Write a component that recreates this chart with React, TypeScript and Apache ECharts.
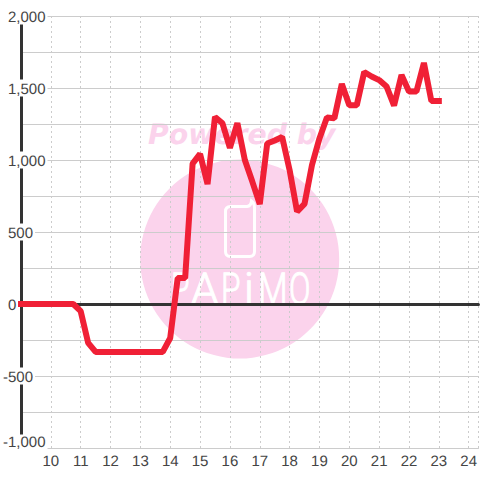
import React, { useEffect, useRef } from "react";
import * as echarts from "echarts";

const hours = [
  9, 9.25, 9.5, 9.75, 10, 10.25, 10.5, 10.75, 11, 11.25, 11.5, 11.75, 12, 12.25, 12.5, 12.75, 13, 13.25, 13.5, 13.75,
  14, 14.25, 14.5, 14.75, 15, 15.25, 15.5, 15.75, 16, 16.25, 16.5, 16.75, 17, 17.25, 17.5, 17.75, 18, 18.25, 18.5, 18.75,
  19, 19.25, 19.5, 19.75, 20, 20.25, 20.5, 20.75, 21, 21.25, 21.5, 21.75, 22, 22.25, 22.5, 22.75, 23,
];
const profit = [
  0, 0, 0, 0, 0, 0, 0, 0, -50, -270, -333, -333, -333, -333, -333, -333, -333, -333, -333, -333,
  -236, 180, 180, 975, 1042, 833, 1299, 1255, 1085, 1257, 1000, 850, 694, 1115, 1135, 1160, 930, 642, 695, 965,
  1150, 1295, 1290, 1528, 1380, 1380, 1611, 1580, 1555, 1510, 1378, 1590, 1475, 1475, 1674, 1410, 1410,
];

const PHONE =
  "M230.5 206.5 H247 Q251 206 251.5 201 Q254.5 203 254.5 208 V251.5 Q254.5 256.5 249.5 256.5 H230.5 Q225.5 256.5 225.5 251.5 V211.5 Q225.5 206.5 230.5 206.5 Z";
echarts.graphic.registerShape("logo", echarts.graphic.extendPath(PHONE, {}) as any);

const logoLetters: [string, number, number][] = [
  ["P", 171, 0.68],
  ["A", 191, 1.0],
  ["P", 221, 0.72],
  ["i", 244, 1.0],
  ["M", 258, 0.78],
  ["O", 289, 0.72],
];

const FONT = "'Liberation Sans', Arial, sans-serif";
const TEXT = "#444444";
const GRID = "#cccccc";
const DARK = "#333333";
const PINK = "#fbd3ec";
const RED = "#f02036";

export default function App() {
  const ref = useRef<HTMLDivElement>(null);
  useEffect(() => {
    const chart = echarts.init(ref.current!, undefined, { renderer: "svg" });
    const xCommon = { type: "value", min: 9, max: 24.327, interval: 1 };
    const tok = { color: TEXT, fontFamily: FONT, fontSize: 15, backgroundColor: "#ffffff", lineHeight: 15 };
    chart.setOption({
      animation: false,
      backgroundColor: "#ffffff",
      grid: { left: 20.2, right: 0, top: 16, bottom: 32 },
      graphic: [
        { type: "circle", z: -10, shape: { cx: 239.7, cy: 259, r: 99.5 }, style: { fill: PINK } },
        { type: "text", z: -10, x: 148, y: 120, style: { text: "Powered by", fill: PINK, font: "italic bold 28.3px 'DejaVu Sans'" } },
        { type: "logo", z: -9, x: 0, y: 0, style: { fill: "none", stroke: "#ffffff", lineWidth: 3 } },
        ...logoLetters.map(([ch, x, sx]) => ({
          type: "text",
          z: -9,
          x,
          y: 267,
          scaleX: sx,
          style: { text: ch, fill: "#ffffff", stroke: "#ffffff", lineWidth: 1, font: "300 44px Roboto" },
        })),
      ],
      xAxis: [
        {
          ...xCommon,
          position: "bottom",
          axisLine: { onZero: false, show: true, lineStyle: { color: GRID, width: 1 } },
          axisTick: { show: false },
          axisLabel: {
            color: TEXT,
            fontFamily: FONT,
            fontSize: 15,
            margin: 6,
            showMinLabel: false,
            formatter: (v: number) => (v === 9 ? "" : String(v)),
          },
          splitLine: { show: true, lineStyle: { color: GRID, width: 1, type: [2, 3] } },
        },
        {
          ...xCommon,
          position: "top",
          axisLine: { onZero: true, show: true, lineStyle: { color: DARK, width: 3 } },
          axisTick: { show: false },
          axisLabel: { show: false },
          splitLine: { show: false },
        },
      ],
      yAxis: {
        type: "value",
        min: -1000,
        max: 2000,
        interval: 250,
        axisLine: { show: true, onZero: false, lineStyle: { color: DARK, width: 3 } },
        axisTick: { show: false },
        splitLine: { show: true, lineStyle: { color: GRID, width: 1 } },
        axisLabel: {
          inside: true,
          margin: -18,
          align: "left",
          color: TEXT,
          fontFamily: FONT,
          fontSize: 15,
          formatter: (v: number) => {
            if (v % 500 !== 0) return "";
            const s = v.toLocaleString("en-US");
            if (v === -1000) return `{m|${s}}`;
            return v < 0 ? `{n|${s}}` : `{p|${s}}`;
          },
          rich: {
            p: { ...tok, padding: [2, 2, 0, 5] },
            n: { ...tok, padding: [2, 2, 0, 0] },
            m: { ...tok, padding: [0, 2, 12, 0] },
          },
        },
      },
      series: [
        {
          type: "line",
          xAxisIndex: 0,
          data: hours.map((h, i) => [h, profit[i]]),
          showSymbol: false,
          symbol: "none",
          clip: false,
          z: 5,
          lineStyle: { color: RED, width: 6, cap: "square", join: "bevel" },
        },
      ],
    });
    return () => chart.dispose();
  }, []);
  return (
    <div
      ref={ref}
      style={{ position: "absolute", left: 0, top: 0, width: 480, height: 480, textRendering: "geometricPrecision" }}
    />
  );
}
